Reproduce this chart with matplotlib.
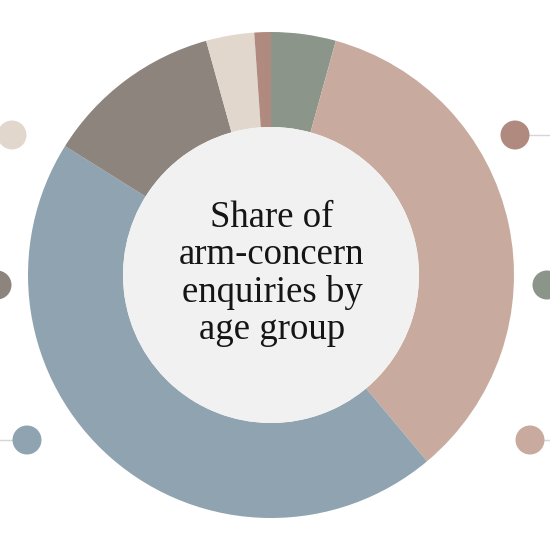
import matplotlib.pyplot as plt
from matplotlib.patches import Circle

# age-group shares (clockwise from 12 o'clock)
groups = ['Group A', 'Group B', 'Group C', 'Group D', 'Group E', 'Group F']
shares = [4.3, 34.6, 45.0, 11.8, 3.2, 1.1]
colors = ['#8b9589', '#c8ab9e', '#8fa3b1', '#8d847e', '#e1d7cd', '#b08a7e']

title = 'Share of\narm-concern\nenquiries by\nage group'

H = 550

fig = plt.figure(figsize=(5.5, 5.5), dpi=100, facecolor='white')
ax = fig.add_axes([0, 0, 1, 1])

cx, cy, r_out, r_in = 271, H - 275, 243, 148

ax.pie(shares, colors=colors, startangle=90, counterclock=False,
       center=(cx, cy), radius=r_out, frame=True,
       wedgeprops=dict(width=r_out - r_in, linewidth=0))
ax.set_xlim(0, 550)
ax.set_ylim(0, H)
ax.set_aspect('equal')
ax.axis('off')

# centre disc
ax.add_patch(Circle((cx, cy), r_in, facecolor='#f1f1f1', edgecolor='none', zorder=3))
ax.text(cx + 1, cy + 1, title, ha='center', va='center', fontsize=26.5,
        family='Liberation Serif', color='#151515', linespacing=1.1, zorder=4)

# legend markers partly off the edges
# (x, y from top, line side) in pixels, order follows the groups list
markers = [(547, 285, 1), (530, 440, 1), (27, 440, -1),
           (-3, 285, -1), (12, 135, -1), (515, 135, 1)]
for (mx, my, side), col in zip(markers, colors):
    ax.plot([mx, mx + side * 80], [H - my, H - my], color='#d6d6d6', lw=1,
            zorder=1, solid_capstyle='butt')
    ax.add_patch(Circle((mx, H - my), 14.5, facecolor=col, edgecolor='none', zorder=2))

fig.savefig('out.png', dpi=100, facecolor='white')
